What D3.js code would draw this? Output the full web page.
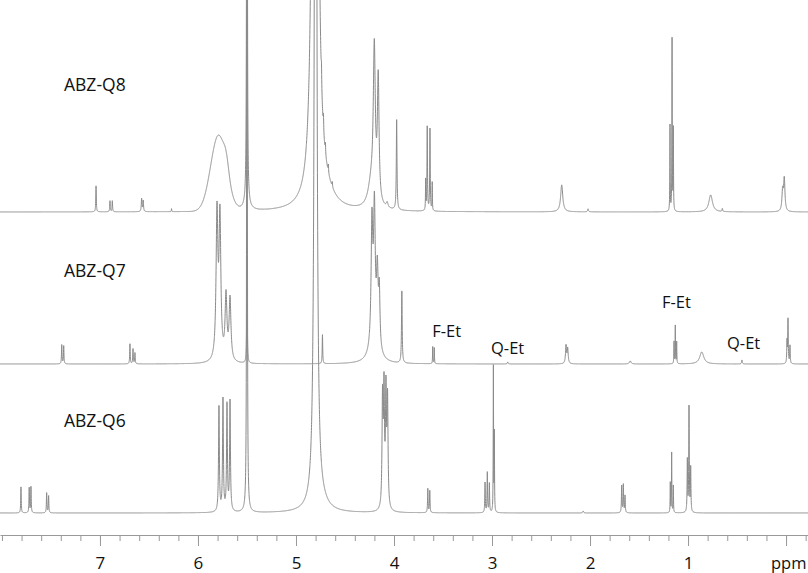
<!DOCTYPE html>
<html><head><meta charset="utf-8">
<script src="https://cdn.jsdelivr.net/npm/d3@7"></script>
<style>html,body{margin:0;padding:0;background:#fff}svg{display:block}</style>
</head><body>
<svg id="c" width="808" height="573"></svg>
<script>
// ---------- DATA ----------
const traceNames = ["ABZ-Q8", "ABZ-Q7", "ABZ-Q6"];

// ABZ-Q8 (top trace): peak positions (ppm), heights, half-widths (ppm), line shapes
const q8Ppm    = [7.040, 6.898, 6.874, 6.575, 6.559, 6.270, 5.790, 5.710, 5.500, 5.500, 4.805, 4.760, 4.740, 4.720, 4.700, 4.670, 4.630, 4.700, 4.230, 4.201, 4.161, 4.070, 3.973, 3.677, 3.661, 3.633, 3.610, 2.289, 2.020, 1.184, 1.163, 1.150, 0.769, 0.650, 0.035, 0.018];
const q8Height = [26, 11, 11, 13, 11, 3, 76, 12, 2000, 6, 5200, 25, 18, 15, 10, 8, 5, 12, 25, 148, 122, 5, 90, 30, 84, 82, 28, 27, 3, 86, 172, 82, 17, 3, 20, 32];
const q8Width  = [.003, .003, .003, .004, .004, .002, .08, .025, .002, .04, .01, .003, .003, .003, .003, .003, .003, .1, .04, .012, .01, .01, .004, .002, .003, .003, .002, .013, .005, .002, .002, .002, .022, .004, .008, .008];
const q8Shape  = ["L","L","L","L","L","L","G","G","L","L","L","L","L","L","L","L","L","L","L","L","L","L","L","L","L","L","L","L","L","L","L","L","L","L","L","L"];

// ABZ-Q7 (middle trace)
const q7Ppm    = [7.390, 7.370, 6.694, 6.663, 6.643, 5.806, 5.776, 5.714, 5.673, 5.500, 4.730, 4.225, 4.200, 4.170, 4.150, 4.200, 3.920, 3.605, 3.589, 2.840, 2.245, 2.228, 1.590, 1.143, 1.130, 1.116, 0.860, 0.450, -0.010, -0.020, -0.040];
const q7Height = [19, 18, 20, 15, 11, 145, 140, 64, 62, 115, 29, 120, 128, 70, 55, 20, 72, 17, 16, 2, 18, 15, 3, 22, 38, 22, 12, 4, 22, 44, 18];
const q7Width  = [.003, .003, .003, .003, .003, .011, .011, .011, .011, .003, .003, .01, .01, .01, .008, .05, .004, .002, .002, .004, .006, .006, .01, .002, .002, .002, .025, .004, .003, .003, .003];
const q7Shape  = q7Ppm.map(() => "L");

// ABZ-Q6 (bottom trace)
const q6Ppm    = [7.806, 7.722, 7.704, 7.544, 7.524, 5.786, 5.745, 5.704, 5.673, 5.500, 4.800, 4.760, 4.117, 4.102, 4.082, 4.066, 3.655, 3.635, 3.071, 3.048, 3.027, 2.986, 2.976, 2.070, 1.677, 1.660, 1.643, 1.181, 1.167, 1.150, 1.007, 0.990, 0.973];
const q6Height = [26, 25, 26, 20, 17, 105, 112, 106, 110, 2000, 1500, 10, 108, 114, 112, 106, 24, 22, 30, 40, 29, 145, 78, 2, 27, 28, 17, 30, 60, 27, 52, 105, 44];
const q6Width  = [.003, .003, .003, .003, .003, .005, .005, .005, .005, .002, .01, .08, .006, .006, .006, .006, .003, .003, .003, .003, .003, .002, .002, .005, .003, .003, .003, .002, .002, .002, .003, .003, .003];
const q6Shape  = q6Ppm.map(() => "L");

// axis ticks
const majorTicks = [7, 6, 5, 4, 3, 2, 1, 0];
const majorTickLabels = ["7", "6", "5", "4", "3", "2", "1", ""];
const minorTicks = d3.range(40, -2, -1).map(v => v / 5);
const axisUnit = "ppm";

// annotations: text and anchor ppm
const annotationText = ["F-Et", "Q-Et", "F-Et", "Q-Et"];
const annotationPpm  = [3.61, 3.01, 1.265, 0.602];

// ---------- LAYOUT ----------
const W = 808, H = 573;
const layout = {
  baselines: [212, 364, 513],
  nameX: 64, nameY: [91, 277, 427],
  axisY: 535,
  annotY: [337, 354, 308, 349]
};

const svg = d3.select("#c");
svg.append("rect").attr("width", W).attr("height", H).attr("fill", "#fff");

const x = d3.scaleLinear().domain([8.02, -0.224]).range([0, W]);

function buildSpectrum(ppm, height, width, shape) {
  const grid = d3.range(8.05, -0.26, -0.0008).concat(ppm);
  grid.sort((a, b) => b - a);
  return grid.map(p => {
    let s = 0;
    for (let i = 0; i < ppm.length; i++) {
      const d = (p - ppm[i]) / width[i];
      s += shape[i] === "G" ? height[i] * Math.exp(-0.5 * d * d) : height[i] / (1 + d * d);
    }
    return [p, s];
  });
}

const traces = [
  buildSpectrum(q8Ppm, q8Height, q8Width, q8Shape),
  buildSpectrum(q7Ppm, q7Height, q7Width, q7Shape),
  buildSpectrum(q6Ppm, q6Height, q6Width, q6Shape)
];

traces.forEach((spec, i) => {
  const base = layout.baselines[i];
  const y = d3.scaleLinear().domain([0, 100]).range([base, base - 100]);
  const line = d3.line().x(d => x(d[0])).y(d => Math.max(-50, y(d[1])));
  svg.append("path")
    .datum(spec)
    .attr("d", line)
    .attr("fill", "none")
    .attr("stroke", "#8a8a8a")
    .attr("stroke-width", 1)
    .attr("stroke-linejoin", "round");
});

const font = "'Open Sans', sans-serif";

// trace names
traceNames.forEach((n, i) => {
  svg.append("text")
    .attr("x", layout.nameX).attr("y", layout.nameY[i])
    .attr("font-family", font)
    .attr("font-size", 17.5).attr("fill", "#111")
    .text(n);
});

// annotations
annotationText.forEach((t, i) => {
  svg.append("text")
    .attr("x", x(annotationPpm[i])).attr("y", layout.annotY[i])
    .attr("font-family", font)
    .attr("font-size", 16.5).attr("fill", "#111")
    .text(t);
});

// axis
const gMinor = svg.append("g").attr("transform", `translate(0,${layout.axisY})`)
  .call(d3.axisBottom(x).tickValues(minorTicks).tickSize(6).tickSizeOuter(0).tickFormat(""));
const gMajor = svg.append("g").attr("transform", `translate(0,${layout.axisY})`)
  .call(d3.axisBottom(x).tickValues(majorTicks).tickSize(11).tickSizeOuter(0)
    .tickFormat((d, i) => majorTickLabels[i]));
gMajor.select(".domain").remove();
[gMinor, gMajor].forEach(g => {
  g.selectAll("line").attr("stroke", "#999");
  g.selectAll(".domain").attr("stroke", "#999");
});
gMajor.selectAll("text")
  .attr("y", 34).attr("dy", 0)
  .attr("font-family", font)
  .attr("font-size", 17).attr("fill", "#111");
svg.append("text")
  .attr("x", 771).attr("y", layout.axisY + 34)
  .attr("font-family", font)
  .attr("font-size", 16.5).attr("fill", "#111")
  .text(axisUnit);
</script>
</body></html>
